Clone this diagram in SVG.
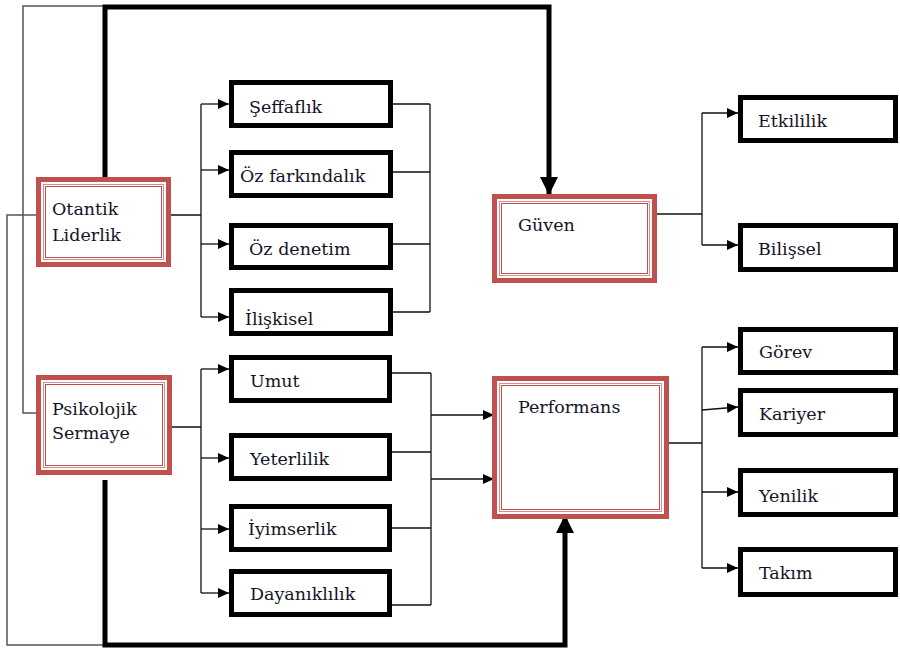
<svg xmlns="http://www.w3.org/2000/svg" width="900" height="652" viewBox="0 0 900 652">
<defs>
<style>
.frame{fill:#fff;stroke:#C0504D;stroke-width:5}
.in1{fill:none;stroke:#D98C8A;stroke-width:1}
.in2{fill:none;stroke:#C0504D;stroke-width:1}
.box{fill:#fff;stroke:#000;stroke-width:5}
.t{font-family:"DejaVu Serif","Liberation Serif",serif;font-size:17.5px;fill:#141428}
.c{fill:none;stroke:#111;stroke-width:1.3}
.g{fill:none;stroke:#555;stroke-width:1.5}
.k{fill:none;stroke:#000;stroke-width:5}
.a{marker-end:url(#ah)}
</style>
<marker id="ah" markerUnits="userSpaceOnUse" markerWidth="11" markerHeight="10" refX="11" refY="5" orient="auto"><path d="M0,0 L11,5 L0,10 z" fill="#000"/></marker>
<marker id="bh" markerUnits="userSpaceOnUse" markerWidth="18" markerHeight="18" refX="17" refY="9" orient="auto"><path d="M0,0 L18,9 L0,18 z" fill="#000"/></marker>
</defs>
<rect width="900" height="652" fill="#fff"/>
<g id="connectors">
<path class="g" d="M103,6 H23 V413 H36"/>
<path class="g" d="M36,215 H7 V645 H103"/>
<path class="k" d="M105,182 V7 H549 V194" marker-end="url(#bh)"/>
<path class="k" d="M105,480 V645 H565 V516" marker-end="url(#bh)"/>
<path class="c" d="M171,215 H201 M201,104 V317"/>
<path class="c a" d="M201,104 H229"/>
<path class="c a" d="M201,170 H229"/>
<path class="c a" d="M201,244 H229"/>
<path class="c a" d="M201,317 H229"/>
<path class="c" d="M393,104 H430 M393,172 H430 M393,244 H430 M393,312 H430 M430,104 V312"/>
<path class="c" d="M172,427 H201 M201,369 V593"/>
<path class="c a" d="M201,369 H229"/>
<path class="c a" d="M201,458 H229"/>
<path class="c a" d="M201,529 H229"/>
<path class="c a" d="M201,593 H229"/>
<path class="c" d="M392,373 H431 M392,452 H431 M392,528 H431 M392,605 H431 M431,373 V605"/>
<path class="c a" d="M431,415 H494"/>
<path class="c a" d="M431,479 H494"/>
<path class="c" d="M657,214 H702 M702,113 V245"/>
<path class="c a" d="M702,113 H738"/>
<path class="c a" d="M702,245 H738"/>
<path class="c" d="M669,443 H702 M702,347 V568"/>
<path class="c a" d="M702,347 H738"/>
<path class="c a" d="M702,410 L738,407"/>
<path class="c a" d="M702,492 H738"/>
<path class="c a" d="M702,568 H738"/>
</g>
<g id="otantik">
<rect class="frame" x="38.5" y="179.5" width="130" height="85"/>
<rect class="in1" x="43.5" y="184.5" width="120" height="75"/>
<rect class="in2" x="45.5" y="186.5" width="116" height="71"/>
<text class="t" x="52" y="215">Otantik</text>
<text class="t" x="52" y="241">Liderlik</text>
</g>
<g id="psikolojik">
<rect class="frame" x="38.5" y="377.5" width="131" height="95"/>
<rect class="in1" x="43.5" y="382.5" width="121" height="85"/>
<rect class="in2" x="45.5" y="384.5" width="117" height="81"/>
<text class="t" x="52" y="415">Psikolojik</text>
<text class="t" x="52" y="439">Sermaye</text>
</g>
<g id="guven">
<rect class="frame" x="494.5" y="196.5" width="160" height="84"/>
<rect class="in1" x="499.5" y="201.5" width="150" height="74"/>
<rect class="in2" x="501.5" y="203.5" width="146" height="70"/>
<text class="t" x="518" y="231">Güven</text>
</g>
<g id="performans">
<rect class="frame" x="494.5" y="378.5" width="172" height="138"/>
<rect class="in1" x="499.5" y="383.5" width="162" height="128"/>
<rect class="in2" x="501.5" y="385.5" width="158" height="124"/>
<text class="t" x="518" y="413">Performans</text>
</g>
<g id="seffaflik"><rect class="box" x="231.5" y="82.5" width="159" height="43"/><text class="t" x="249" y="113">Şeffaflık</text></g>
<g id="ozfarkindalik"><rect class="box" x="231.5" y="152.5" width="159" height="43"/><text class="t" x="240" y="182">Öz farkındalık</text></g>
<g id="ozdenetim"><rect class="box" x="231.5" y="225.5" width="159" height="42"/><text class="t" x="249" y="255">Öz denetim</text></g>
<g id="iliskisel"><rect class="box" x="231.5" y="290.5" width="159" height="43"/><text class="t" x="245" y="325">İlişkisel</text></g>
<g id="umut"><rect class="box" x="231.5" y="357.5" width="158" height="43"/><text class="t" x="250" y="387">Umut</text></g>
<g id="yeterlilik"><rect class="box" x="231.5" y="435.5" width="158" height="43"/><text class="t" x="250" y="465">Yeterlilik</text></g>
<g id="iyimserlik"><rect class="box" x="231.5" y="506.5" width="158" height="43"/><text class="t" x="248" y="535">İyimserlik</text></g>
<g id="dayaniklilik"><rect class="box" x="231.5" y="571.5" width="158" height="43"/><text class="t" x="250" y="600">Dayanıklılık</text></g>
<g id="etkililik"><rect class="box" x="740.5" y="97.5" width="155" height="43"/><text class="t" x="758" y="127">Etkililik</text></g>
<g id="bilissel"><rect class="box" x="740.5" y="225.5" width="155" height="44"/><text class="t" x="758" y="255">Bilişsel</text></g>
<g id="gorev"><rect class="box" x="740.5" y="329.5" width="155" height="43"/><text class="t" x="759" y="358">Görev</text></g>
<g id="kariyer"><rect class="box" x="740.5" y="390.5" width="155" height="44"/><text class="t" x="759" y="420">Kariyer</text></g>
<g id="yenilik"><rect class="box" x="740.5" y="470.5" width="155" height="44"/><text class="t" x="759" y="502">Yenilik</text></g>
<g id="takim"><rect class="box" x="740.5" y="549.5" width="155" height="45"/><text class="t" x="759" y="579">Takım</text></g>
</svg>
